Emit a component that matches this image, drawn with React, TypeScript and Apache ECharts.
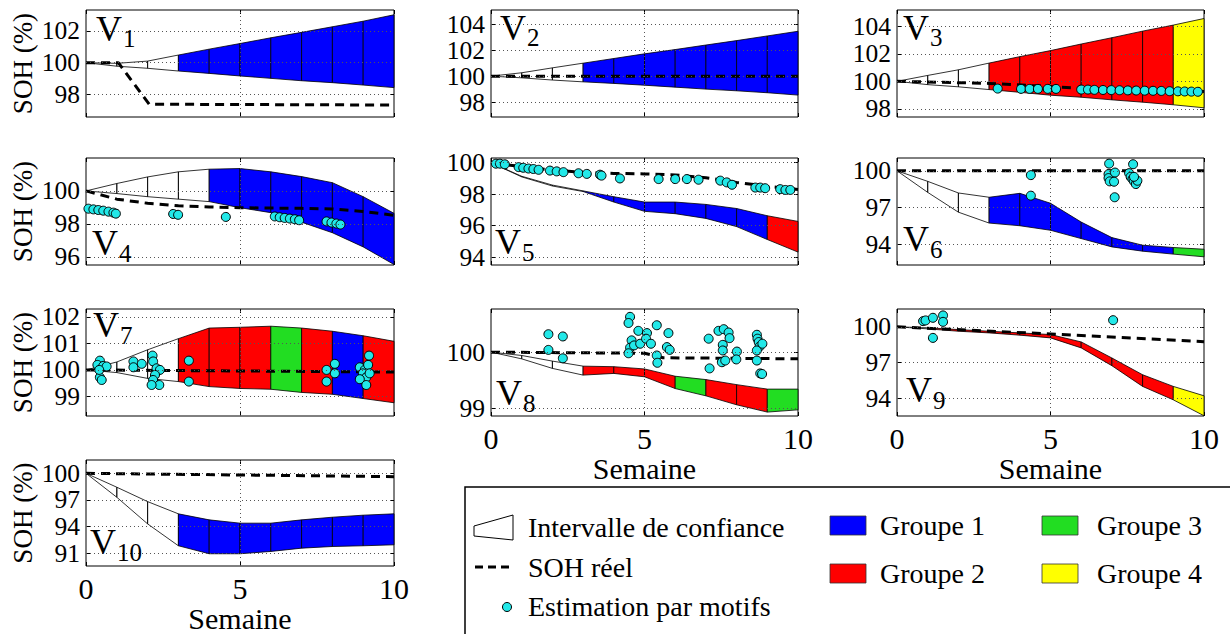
import React, { useEffect, useRef } from 'react';
import * as echarts from 'echarts';

// ---------------- DATA ----------------
const xTicks = [0, 5, 10];
const groupNames = ['Groupe 1', 'Groupe 2', 'Groupe 3', 'Groupe 4'];

const v1Upper = [100, 99.96, 100.1, 100.48, 100.85, 101.2, 101.56, 101.9, 102.25, 102.6, 103.0];
const v1Lower = [100, 99.78, 99.65, 99.48, 99.33, 99.17, 99.02, 98.87, 98.75, 98.6, 98.44];
const v1Groups = [0, 0, 0, 1, 1, 1, 1, 1, 1, 1];
const v1Real = [[0, 100], [1.05, 100], [2.05, 97.4], [10, 97.35]];
const v1Est: number[][] = [];
const v1Ticks = [98, 100, 102];

const v2Upper = [100, 100.26, 100.64, 101.0, 101.36, 101.72, 102.05, 102.4, 102.74, 103.1, 103.46];
const v2Lower = [100, 99.87, 99.7, 99.56, 99.44, 99.3, 99.15, 99.0, 98.87, 98.72, 98.54];
const v2Groups = [0, 0, 0, 1, 1, 1, 1, 1, 1, 1];
const v2Real = [[0, 100], [10, 100]];
const v2Est: number[][] = [];
const v2Ticks = [98, 100, 102, 104];

const v3Upper = [100, 100.43, 100.84, 101.33, 101.8, 102.24, 102.72, 103.18, 103.66, 104.1, 104.58];
const v3Lower = [100, 99.76, 99.6, 99.4, 99.2, 98.99, 98.84, 98.65, 98.48, 98.29, 98.07];
const v3Groups = [0, 0, 0, 2, 2, 2, 2, 2, 2, 4];
const v3Real = [[0, 100], [3, 99.85], [6, 99.5], [10, 99.25]];
const v3Est = [
  [3.28, 99.47], [4.04, 99.45], [4.32, 99.45], [4.59, 99.45], [4.91, 99.45], [5.18, 99.45],
  [6.0, 99.4], [6.22, 99.4], [6.43, 99.38], [6.71, 99.37], [6.98, 99.36], [7.25, 99.35],
  [7.52, 99.34], [7.79, 99.33], [8.07, 99.32], [8.34, 99.31], [8.61, 99.3], [8.88, 99.28],
  [9.15, 99.27], [9.37, 99.26], [9.59, 99.25], [9.8, 99.24],
];
const v3Ticks = [98, 100, 102, 104];

const v4Upper = [100, 100.45, 100.85, 101.16, 101.32, 101.36, 101.16, 100.87, 100.5, 99.65, 98.64];
const v4Lower = [100, 99.84, 99.65, 99.5, 99.35, 98.98, 98.68, 98.1, 97.46, 96.6, 95.53];
const v4Groups = [0, 0, 0, 0, 1, 1, 1, 1, 1, 1];
const v4Real = [[0, 100], [1, 99.5], [2, 99.25], [3, 99.1], [4, 99.03], [5, 98.98], [6, 98.96], [7, 98.94], [8, 98.9], [9, 98.75], [10, 98.52]];
const v4Est = [
  [0.08, 98.92], [0.24, 98.88], [0.4, 98.84], [0.56, 98.8], [0.73, 98.74], [0.89, 98.68], [0.97, 98.62],
  [2.83, 98.6], [2.99, 98.55], [4.54, 98.42],
  [6.13, 98.45], [6.29, 98.4], [6.45, 98.36], [6.62, 98.32], [6.78, 98.28], [6.92, 98.22],
  [7.81, 98.15], [7.97, 98.08], [8.13, 98.02], [8.26, 97.96],
];
const v4Ticks = [96, 98, 100];

const v5Upper = [100, 99.14, 98.58, 98.21, 97.84, 97.5, 97.5, 97.35, 97.09, 96.63, 96.27];
const v5Lower = [100, 99.1, 98.52, 98.17, 97.5, 96.91, 96.76, 96.46, 95.94, 95.12, 94.32];
const v5Groups = [0, 0, 0, 1, 1, 1, 1, 1, 1, 2];
const v5Real = [[0, 100], [1, 99.75], [2, 99.52], [3, 99.4], [4, 99.32], [5, 99.29], [6, 99.22], [7, 99.05], [8, 98.75], [9, 98.5], [10, 98.3]];
const v5Est = [
  [0.16, 99.94], [0.29, 99.94], [0.45, 99.9], [0.9, 99.72], [1.05, 99.68], [1.22, 99.63], [1.38, 99.6],
  [1.55, 99.55], [1.92, 99.5], [2.14, 99.45], [2.36, 99.4], [2.85, 99.33], [3.12, 99.29], [3.55, 99.24],
  [3.6, 99.18], [4.2, 99.0], [5.46, 98.96], [6.0, 98.96], [6.38, 98.96], [6.76, 98.92], [7.47, 98.86],
  [7.68, 98.75], [7.85, 98.6], [8.61, 98.42], [8.77, 98.42], [8.93, 98.38], [9.42, 98.32], [9.59, 98.27], [9.75, 98.27],
];
const v5Ticks = [94, 96, 98, 100];

const v6Upper = [100, 99.14, 98.19, 97.84, 98.16, 97.35, 95.81, 94.54, 93.92, 93.73, 93.59];
const v6Lower = [100, 98.24, 96.62, 95.73, 95.51, 95.14, 94.46, 93.78, 93.43, 93.19, 92.97];
const v6Groups = [0, 0, 0, 1, 1, 1, 1, 1, 1, 3];
const v6Real = [[0, 100], [10, 100]];
const v6Est = [
  [4.36, 99.65], [4.36, 97.97], [6.91, 100.59], [6.89, 99.73], [6.89, 99.41], [6.93, 99.14],
  [7.1, 99.86], [7.07, 99.11], [7.09, 97.84], [7.69, 100.54], [7.56, 99.81], [7.61, 99.51],
  [7.67, 99.32], [7.72, 99.14], [7.78, 98.92], [7.83, 99.19], [7.72, 99.51],
];
const v6Ticks = [94, 97, 100];

const v7Upper = [100, 100.3, 100.76, 101.18, 101.58, 101.61, 101.65, 101.58, 101.46, 101.29, 101.08];
const v7Lower = [100, 99.9, 99.68, 99.56, 99.37, 99.3, 99.27, 99.15, 99.08, 98.92, 98.76];
const v7Groups = [0, 0, 0, 2, 2, 2, 3, 2, 1, 2];
const v7Real = [[0, 100], [10, 99.92]];
const v7Est = [
  [0.45, 100.35], [0.37, 100.19], [0.56, 100.15], [0.67, 100.13], [0.45, 99.72], [0.51, 99.62], [0.43, 100.0],
  [1.54, 100.32], [1.54, 100.1], [1.81, 100.23], [2.16, 100.54], [2.18, 100.32], [2.29, 100.06], [2.4, 100.0],
  [2.24, 99.81], [2.18, 99.62], [2.38, 99.43], [2.13, 99.43], [3.34, 100.35], [3.34, 99.56],
  [7.81, 100.0], [7.81, 99.56], [8.08, 100.23], [8.08, 99.87], [8.89, 100.1], [9.05, 100.0], [9.16, 100.19],
  [9.19, 100.54], [8.99, 99.87], [9.1, 99.72], [8.89, 99.65], [9.1, 99.43], [9.21, 99.87],
];
const v7Ticks = [99, 100, 101, 102];

const v8Upper = [100, 99.94, 99.84, 99.75, 99.74, 99.7, 99.57, 99.51, 99.42, 99.34, 99.34];
const v8Lower = [100, 99.88, 99.71, 99.59, 99.62, 99.56, 99.35, 99.22, 99.06, 98.93, 98.97];
const v8Groups = [0, 0, 0, 2, 2, 2, 3, 2, 2, 3];
const v8Real = [[0, 100], [5, 99.98], [5.6, 99.9], [10, 99.88]];
const v8Est = [
  [1.87, 100.32], [1.87, 100.04], [2.34, 100.28], [2.34, 99.89], [4.53, 100.63], [4.48, 100.52],
  [4.58, 100.21], [4.53, 100.08], [4.48, 99.98], [4.66, 100.12], [4.8, 100.38], [4.86, 100.15],
  [5.08, 100.34], [5.05, 100.24], [5.21, 100.15], [5.4, 100.48], [5.4, 99.94], [5.42, 99.81],
  [5.78, 100.34], [5.73, 100.09], [5.82, 100.04], [7.09, 100.24], [7.12, 99.71], [7.41, 100.38],
  [7.58, 100.41], [7.74, 100.35], [7.77, 100.25], [7.55, 100.13], [7.55, 100.03], [7.52, 99.82],
  [7.63, 99.85], [8.01, 100.01], [7.99, 99.87], [8.66, 100.31], [8.68, 100.24], [8.72, 100.18],
  [8.75, 100.1], [8.66, 100.03], [8.84, 100.15], [8.66, 99.85], [8.77, 99.62], [8.83, 99.61],
];
const v8Ticks = [99, 100];

const v9Upper = [100, 99.92, 99.77, 99.63, 99.49, 99.35, 98.73, 97.38, 95.97, 94.99, 94.2];
const v9Lower = [100, 99.83, 99.63, 99.49, 99.3, 99.07, 98.23, 96.73, 94.99, 93.86, 92.52];
const v9Groups = [0, 2, 2, 2, 2, 2, 2, 2, 2, 4];
const v9Real = [[0, 100], [5, 99.4], [10, 98.75]];
const v9Est = [
  [0.85, 100.48], [0.93, 100.54], [1.17, 100.76], [1.5, 100.96], [1.5, 100.42], [1.17, 99.07], [7.04, 100.56],
];
const v9Ticks = [94, 97, 100];

const v10Upper = [100, 98.43, 96.81, 95.43, 94.75, 94.38, 94.38, 94.75, 95.05, 95.28, 95.43];
const v10Lower = [100, 97.3, 94.3, 91.83, 90.93, 90.93, 91.19, 91.56, 91.75, 91.83, 91.94];
const v10Groups = [0, 0, 0, 1, 1, 1, 1, 1, 1, 1];
const v10Real = [[0, 100], [10, 99.62]];
const v10Est: number[][] = [];
const v10Ticks = [91, 94, 97, 100];

// ---------------- STYLE / LAYOUT ----------------
const SERIF = 'Liberation Serif, Times New Roman, serif';
const groupColors = ['none', '#0000ff', '#ff0000', '#22dd22', '#ffff00'];
const CYAN = '#22e8e8';

const colLeft = [86, 491, 897];
const colWidth = [308, 307, 307];
const rowTop = [10, 158, 309, 460];
const rowHeight = [107, 107, 107, 106];

type Panel = {
  name: string; up: number[]; lo: number[]; groups: number[]; real: number[][]; est: number[][];
  ticks: number[]; ymin: number; ymax: number; col: number; row: number;
  bottom: boolean; left: boolean; lab: number[];
};

const panels: Panel[] = [
  { name: '1', up: v1Upper, lo: v1Lower, groups: v1Groups, real: v1Real, est: v1Est, ticks: v1Ticks, ymin: 96.6, ymax: 103.3, col: 0, row: 0, bottom: false, left: true, lab: [96, 29, 38] },
  { name: '2', up: v2Upper, lo: v2Lower, groups: v2Groups, real: v2Real, est: v2Est, ticks: v2Ticks, ymin: 96.85, ymax: 105.1, col: 1, row: 0, bottom: false, left: false, lab: [500, 28, 37] },
  { name: '3', up: v3Upper, lo: v3Lower, groups: v3Groups, real: v3Real, est: v3Est, ticks: v3Ticks, ymin: 97.4, ymax: 105.2, col: 2, row: 0, bottom: false, left: false, lab: [903, 28, 37] },
  { name: '4', up: v4Upper, lo: v4Lower, groups: v4Groups, real: v4Real, est: v4Est, ticks: v4Ticks, ymin: 95.5, ymax: 102.0, col: 0, row: 1, bottom: false, left: true, lab: [92, 243, 253] },
  { name: '5', up: v5Upper, lo: v5Lower, groups: v5Groups, real: v5Real, est: v5Est, ticks: v5Ticks, ymin: 93.5, ymax: 100.3, col: 1, row: 1, bottom: false, left: false, lab: [495, 242, 252] },
  { name: '6', up: v6Upper, lo: v6Lower, groups: v6Groups, real: v6Real, est: v6Est, ticks: v6Ticks, ymin: 92.3, ymax: 101.05, col: 2, row: 1, bottom: false, left: false, lab: [903, 239, 249] },
  { name: '7', up: v7Upper, lo: v7Lower, groups: v7Groups, real: v7Real, est: v7Est, ticks: v7Ticks, ymin: 98.26, ymax: 102.3, col: 0, row: 2, bottom: false, left: true, lab: [93, 325, 335] },
  { name: '8', up: v8Upper, lo: v8Lower, groups: v8Groups, real: v8Real, est: v8Est, ticks: v8Ticks, ymin: 98.86, ymax: 100.77, col: 1, row: 2, bottom: true, left: false, lab: [496, 393, 403] },
  { name: '9', up: v9Upper, lo: v9Lower, groups: v9Groups, real: v9Real, est: v9Est, ticks: v9Ticks, ymin: 92.5, ymax: 101.5, col: 2, row: 2, bottom: true, left: false, lab: [906, 390, 400] },
  { name: '10', up: v10Upper, lo: v10Lower, groups: v10Groups, real: v10Real, est: v10Est, ticks: v10Ticks, ymin: 89.55, ymax: 101.5, col: 0, row: 3, bottom: true, left: true, lab: [90, 542, 552] },
];

function txt(x: number, y: number, text: string, size: number, align = 'left', extra: any = {}) {
  return {
    type: 'text', x, y, z: 100, silent: true, ...extra,
    style: {
      text, fontSize: size, fontFamily: SERIF, fill: '#000', lineHeight: Math.round(size * 0.85),
      align, textAlign: align, verticalAlign: 'middle', textVerticalAlign: 'middle',
    },
  };
}

function buildOption() {
  const grid: any[] = [];
  const xAxis: any[] = [];
  const yAxis: any[] = [];
  const series: any[] = [];
  const graphic: any[] = [];
  const tickStyle = { color: '#000', width: 1 };

  panels.forEach((p, i) => {
    const left = colLeft[p.col];
    const width = colWidth[p.col];
    const top = rowTop[p.row];
    const height = rowHeight[p.row];
    grid.push({ left, top, width, height, show: true, borderColor: '#000', borderWidth: 1, containLabel: false, outerBoundsMode: 'none' });

    xAxis.push({
      gridIndex: i, type: 'value', min: 0, max: 10, interval: 5, position: 'bottom',
      axisLine: { show: false }, splitLine: { show: false },
      axisTick: { show: true, inside: true, length: 4, lineStyle: tickStyle },
      axisLabel: { show: p.bottom, fontFamily: SERIF, fontSize: 30, lineHeight: 26, color: '#000', margin: 9 },
    });
    xAxis.push({
      gridIndex: i, type: 'value', min: 0, max: 10, interval: 5, position: 'top',
      axisLine: { show: false }, splitLine: { show: false }, axisLabel: { show: false },
      axisTick: { show: true, inside: true, length: 4, lineStyle: tickStyle },
    });

    // labels split over two overlapping left axes so that no label is dropped
    const evenTicks = p.ticks.filter((_t, k) => k % 2 === 0);
    const oddTicks = p.ticks.filter((_t, k) => k % 2 === 1);
    const labelStyle = { fontFamily: SERIF, fontSize: 25.5, lineHeight: 22, color: '#000', margin: 6, showMinLabel: true, showMaxLabel: true };
    yAxis.push({
      gridIndex: i, type: 'value', min: p.ymin, max: p.ymax, position: 'left', offset: 0,
      axisLine: { show: false }, splitLine: { show: false },
      axisTick: { show: true, inside: true, length: 4, customValues: p.ticks, lineStyle: tickStyle },
      axisLabel: { ...labelStyle, customValues: evenTicks },
    });
    yAxis.push({
      gridIndex: i, type: 'value', min: p.ymin, max: p.ymax, position: 'left', offset: 0,
      axisLine: { show: false }, splitLine: { show: false }, axisTick: { show: false },
      axisLabel: { ...labelStyle, show: oddTicks.length > 0, customValues: oddTicks.length ? oddTicks : [p.ticks[0]] },
    });
    yAxis.push({
      gridIndex: i, type: 'value', min: p.ymin, max: p.ymax, position: 'right',
      axisLine: { show: false }, splitLine: { show: false }, axisLabel: { show: false },
      axisTick: { show: true, inside: true, length: 4, customValues: p.ticks, lineStyle: tickStyle },
    });

    const xi = i * 2;
    const yi = i * 3;

    // grid lines
    series.push({
      type: 'line', xAxisIndex: xi, yAxisIndex: yi, data: [], silent: true, z: 1,
      markLine: {
        silent: true, symbol: ['none', 'none'], label: { show: false },
        lineStyle: { type: [1, 3], color: '#555', width: 1 },
        emphasis: { disabled: true },
        data: [...p.ticks.map((t) => ({ yAxis: t })), { xAxis: xTicks[1] }],
      },
    });

    // confidence band segments
    const segs = p.groups.map((g, k) => [k, p.up[k], p.lo[k], p.up[k + 1], p.lo[k + 1], g]);
    series.push({
      type: 'custom', xAxisIndex: xi, yAxisIndex: yi, z: 2, silent: true, data: segs,
      encode: { x: 0, y: [1, 2, 3, 4] },
      renderItem: (_params: any, api: any) => {
        const k = api.value(0);
        const pts = [
          api.coord([k, api.value(1)]),
          api.coord([k + 1, api.value(3)]),
          api.coord([k + 1, api.value(4)]),
          api.coord([k, api.value(2)]),
        ];
        const g = api.value(5);
        return {
          type: 'polygon', shape: { points: pts },
          style: { fill: g ? groupColors[g] : 'none', stroke: '#000', lineWidth: 0.8 },
        };
      },
    });

    // real SOH
    series.push({
      type: 'line', xAxisIndex: xi, yAxisIndex: yi, data: p.real, symbol: 'none', silent: true, z: 3,
      lineStyle: { color: '#000', width: 3, type: [9, 6] },
    });

    // pattern estimations
    if (p.est.length) {
      series.push({
        type: 'scatter', xAxisIndex: xi, yAxisIndex: yi, data: p.est, symbol: 'circle', symbolSize: 9, silent: true, z: 4,
        itemStyle: { color: CYAN, borderColor: '#000', borderWidth: 1, opacity: 1 },
      });
    }

    // panel label V_n
    graphic.push(txt(p.lab[0], p.lab[1], 'V', 36));
    graphic.push(txt(p.lab[0] + 27, p.lab[2], p.name, 25));

    if (p.left) {
      graphic.push(txt(23, top + height / 2, 'SOH (%)', 27, 'center', { rotation: Math.PI / 2 }));
    }
    if (p.bottom) {
      graphic.push(txt(left + width / 2, top + height + 52, 'Semaine', 30, 'center'));
    }
  });

  // legend box
  graphic.push({
    type: 'rect', z: 100, silent: true, shape: { x: 465, y: 487, width: 800, height: 200 },
    style: { fill: 'none', stroke: '#000', lineWidth: 1.5 },
  });
  graphic.push({
    type: 'polygon', z: 100, silent: true,
    shape: { points: [[474, 526], [513, 515], [513, 540], [474, 536]] },
    style: { fill: '#fff', stroke: '#000', lineWidth: 1 },
  });
  graphic.push(txt(528, 527, 'Intervalle de confiance', 28));
  graphic.push({
    type: 'line', z: 100, silent: true, shape: { x1: 475, y1: 567, x2: 513, y2: 567 },
    style: { stroke: '#000', lineWidth: 3, lineDash: [8, 5] },
  });
  graphic.push(txt(528, 567, 'SOH réel', 28));
  graphic.push({
    type: 'circle', z: 100, silent: true, shape: { cx: 507, cy: 607, r: 4.5 },
    style: { fill: CYAN, stroke: '#000', lineWidth: 1 },
  });
  graphic.push(txt(528, 606, 'Estimation par motifs', 28));

  const boxPos = [[830, 516, 880], [830, 564, 880], [1042, 516, 1097], [1042, 564, 1097]];
  groupNames.forEach((gname, gi) => {
    const [bx, by, tx] = boxPos[gi];
    graphic.push({
      type: 'rect', z: 100, silent: true, shape: { x: bx, y: by, width: 36, height: 19 },
      style: { fill: groupColors[gi + 1], stroke: '#333', lineWidth: 0.8 },
    });
    graphic.push(txt(tx, by + 9, gname, 28));
  });

  return { animation: false, backgroundColor: '#fff', grid, xAxis, yAxis, series, graphic };
}

export default function App() {
  const ref = useRef<HTMLDivElement>(null);
  useEffect(() => {
    if (!ref.current) return;
    const chart = echarts.init(ref.current, undefined, { renderer: 'svg' });
    chart.setOption(buildOption() as any);
    return () => chart.dispose();
  }, []);
  return (
    <div
      ref={ref}
      style={{ position: 'absolute', left: 0, top: 0, width: 1230, height: 634, background: '#fff' }}
    />
  );
}
